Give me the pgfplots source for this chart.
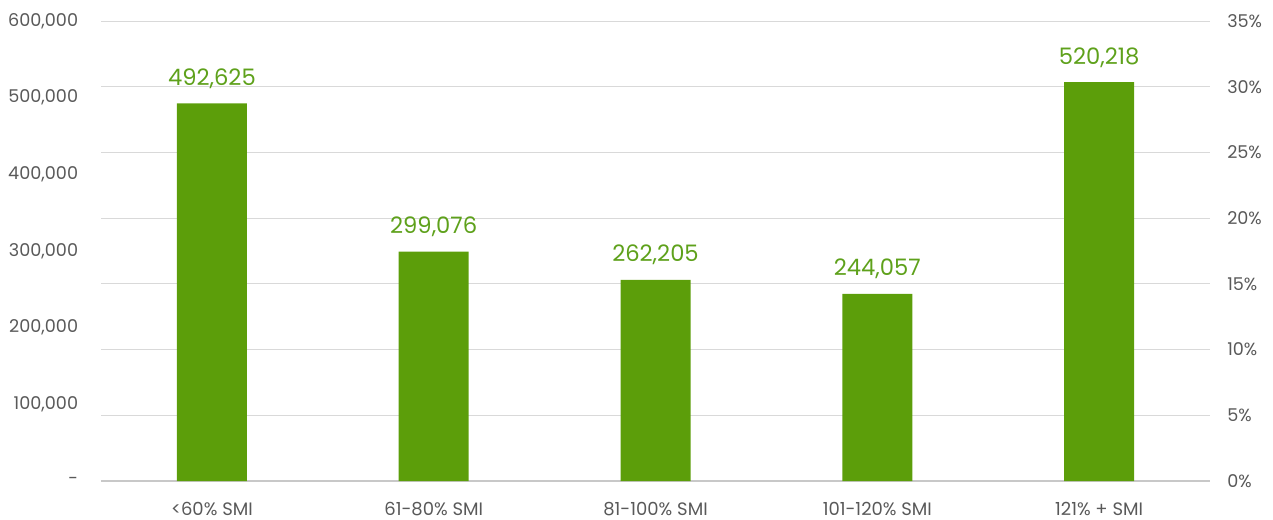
\documentclass[border=0pt]{standalone}
\usepackage{pgfplots}
\pgfplotsset{compat=1.18}
\usepackage{fontspec}
\setmainfont{Poppins}
\definecolor{bargreen}{HTML}{5C9E0A}
\definecolor{labgreen}{HTML}{5EA11B}
\definecolor{tickgray}{HTML}{595959}
\definecolor{gridgray}{HTML}{D9D9D9}
\definecolor{axisgray}{HTML}{C8C8C8}
\begin{document}
\begin{tikzpicture}
\path[use as bounding box] (-75.75pt,-28.5pt) rectangle (879pt,360.75pt);
% right axis with grid (drawn first, behind bars)
\begin{axis}[
  at={(0,0)}, anchor=south west,
  scale only axis, width=831.75pt, height=345pt,
  xmin=-0.5, xmax=4.5, ymin=0, ymax=35,
  axis x line=none, axis y line*=right,
  y axis line style={draw=none},
  ytick={0,5,...,35},
  yticklabel={\pgfmathprintnumber{\tick}\%},
  ymajorgrids, grid style={draw=gridgray, line width=0.75pt},
  major tick length=0pt,
  yticklabel style={anchor=west, inner sep=0pt, xshift=12.75pt,
    font=\fontsize{13.2}{15}\selectfont, text=tickgray},
  /pgf/number format/assume math mode=true,
]
\addplot[draw=none] coordinates {(0,0)};
\end{axis}
% left axis with bars
\begin{axis}[
  at={(0,0)}, anchor=south west,
  scale only axis, width=831.75pt, height=345pt,
  xmin=-0.5, xmax=4.5, ymin=0, ymax=600000,
  axis x line=bottom, axis y line=left,
  x axis line style={-, draw=axisgray, line width=0.9pt},
  y axis line style={draw=none},
  major tick length=0pt,
  scaled y ticks=false,
  ytick={0,100000,200000,300000,400000,500000,600000},
  yticklabels={{-\hspace{7.5pt}},{100,000},{200,000},{300,000},{400,000},{500,000},{600,000}},
  yticklabel style={anchor=east, inner sep=0pt, xshift=-17pt,
    font=\fontsize{13.2}{15}\selectfont, text=tickgray},
  xtick={0,1,2,3,4},
  xticklabels={{<60\% SMI},{61-80\% SMI},{81-100\% SMI},{101-120\% SMI},{121\% + SMI}},
  xticklabel style={anchor=base, inner sep=0pt, yshift=-25.5pt,
    font=\fontsize{13.5}{15}\selectfont, text=tickgray},
  /pgf/number format/assume math mode=true,
  ybar, bar width=0.3156,
  nodes near coords={\pgfmathprintnumber[fixed,precision=0,1000 sep={,}]{\pgfplotspointmeta}},
  every node near coord/.append style={anchor=base, yshift=13.5pt, inner sep=0pt,
    font=\fontsize{17}{19}\selectfont, text=labgreen},
]
\addplot[fill=bargreen, draw=none] coordinates {
  (0,492625) (1,299076) (2,262205) (3,244057) (4,520218)
};
\end{axis}
\end{tikzpicture}
\end{document}
